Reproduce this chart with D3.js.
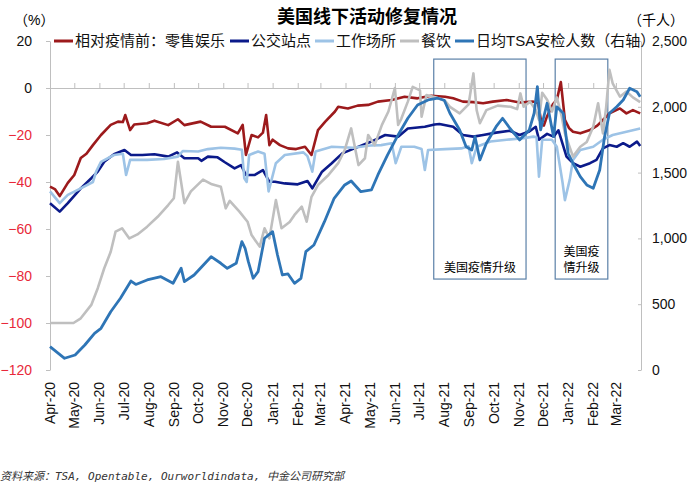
<!DOCTYPE html>
<html>
<head>
<meta charset="utf-8">
<script src="https://cdn.jsdelivr.net/npm/d3@7"></script>
<style>
  body { margin: 0; background: #fff; }
  svg text { font-family: "Liberation Sans", Arial, "Noto Sans CJK SC", sans-serif; }
</style>
</head>
<body>
<div id="chart"></div>
<script>
var width = 700;
var height = 486;

// series: [date, value]
var retail = [["2020-04-01",-42],["2020-04-07",-43],["2020-04-13",-46],["2020-04-23",-40.4],["2020-05-01",-37],["2020-05-09",-29.8],["2020-05-16",-28],["2020-05-24",-24.3],["2020-06-03",-20],["2020-06-15",-15.7],["2020-06-24",-14.3],["2020-06-30",-14.5],["2020-07-03",-11.5],["2020-07-09",-17.9],["2020-07-14",-15.5],["2020-07-30",-15],["2020-08-08",-13.9],["2020-08-25",-15.8],["2020-09-06",-13.3],["2020-09-14",-15.8],["2020-10-04",-14.3],["2020-10-17",-16.5],["2020-11-03",-16.5],["2020-11-19",-19.3],["2020-11-25",-15.7],["2020-11-29",-28.5],["2020-12-06",-20],["2020-12-14",-21],["2020-12-20",-19],["2020-12-24",-11.5],["2020-12-28",-24.3],["2021-01-01",-22],["2021-01-10",-24.3],["2021-01-20",-25.7],["2021-01-30",-26],["2021-02-10",-25],["2021-02-18",-28.5],["2021-02-26",-17.9],["2021-03-07",-14.3],["2021-03-19",-10],["2021-03-23",-8],["2021-04-04",-8.7],["2021-04-16",-7.5],["2021-04-29",-7.2],["2021-05-11",-5.8],["2021-05-28",-5.1],["2021-06-13",-3.7],["2021-06-29",-4.4],["2021-07-16",-3.3],["2021-08-02",-3.7],["2021-08-12",-4.4],["2021-08-24",-5.8],["2021-09-06",-6],["2021-09-18",-6.5],["2021-09-30",-5.8],["2021-10-17",-5.1],["2021-11-02",-6.2],["2021-11-19",-5.8],["2021-11-25",-6.5],["2021-11-29",-15],["2021-12-02",-16],["2021-12-06",-12],["2021-12-13",-7],["2021-12-18",-5.1],["2021-12-23",2.5],["2021-12-28",-13.6],["2022-01-02",-17],["2022-01-07",-18.6],["2022-01-16",-19.3],["2022-01-28",-17.9],["2022-02-06",-16],["2022-02-13",-13.6],["2022-02-21",-10.8],["2022-03-06",-8.7],["2022-03-14",-10.8],["2022-03-22",-9.4],["2022-03-31",-10.8]];

var transit = [["2020-04-01",-49],["2020-04-13",-52.6],["2020-04-23",-49],["2020-05-09",-42.7],["2020-05-22",-38.4],["2020-05-30",-35.6],["2020-06-07",-31.4],["2020-06-19",-28.2],["2020-07-02",-26.4],["2020-07-10",-28.5],["2020-07-24",-28.5],["2020-08-08",-28.2],["2020-08-25",-29.2],["2020-09-05",-27.4],["2020-09-14",-29.9],["2020-10-01",-29.9],["2020-10-05",-31],["2020-10-13",-29.2],["2020-10-25",-29.5],["2020-11-03",-31.6],["2020-11-15",-34.2],["2020-11-23",-32.8],["2020-11-29",-37],["2020-12-10",-37],["2020-12-20",-34.9],["2020-12-28",-39.9],["2021-01-04",-39.9],["2021-01-16",-40.6],["2021-02-01",-41],["2021-02-13",-39.6],["2021-02-19",-42.7],["2021-03-03",-35.6],["2021-03-15",-32],["2021-03-28",-27.8],["2021-04-12",-25.7],["2021-05-03",-22.8],["2021-05-20",-20],["2021-06-05",-20.7],["2021-06-17",-17.2],["2021-07-08",-16.5],["2021-07-20",-15.5],["2021-07-26",-15.3],["2021-08-12",-16.5],["2021-08-24",-20],["2021-09-06",-20.7],["2021-09-18",-20],["2021-10-04",-19],["2021-10-21",-18.2],["2021-11-02",-20],["2021-11-14",-18.5],["2021-11-22",-16.5],["2021-11-26",-22],["2021-12-06",-19.5],["2021-12-14",-20.7],["2021-12-20",-18],["2021-12-30",-29.2],["2022-01-07",-32],["2022-01-16",-33.5],["2022-01-28",-32],["2022-02-05",-30.6],["2022-02-13",-25.7],["2022-02-21",-24.3],["2022-03-02",-25],["2022-03-10",-23.5],["2022-03-18",-25],["2022-03-27",-22.8],["2022-03-31",-24.7]];

var workplace = [["2020-04-01",-44],["2020-04-13",-49],["2020-04-23",-45.5],["2020-05-09",-42.7],["2020-05-24",-40],["2020-05-28",-35.6],["2020-06-03",-31.4],["2020-06-19",-28.5],["2020-06-30",-28],["2020-07-04",-37],["2020-07-09",-30.6],["2020-07-30",-30.6],["2020-08-20",-30.2],["2020-09-06",-29.2],["2020-09-12",-26.8],["2020-10-01",-27],["2020-10-13",-26],["2020-10-29",-25.4],["2020-11-15",-25.8],["2020-11-24",-26.3],["2020-11-27",-38.4],["2020-11-30",-40],["2020-12-03",-28.5],["2020-12-14",-27],["2020-12-22",-28],["2020-12-27",-44],["2021-01-05",-32],["2021-01-16",-28.5],["2021-02-08",-27.4],["2021-02-13",-29],["2021-02-19",-35.6],["2021-02-23",-27],["2021-03-15",-25],["2021-04-10",-25.4],["2021-05-02",-24.5],["2021-05-15",-24.3],["2021-05-28",-23.5],["2021-06-02",-32],["2021-06-09",-25],["2021-06-25",-25],["2021-07-04",-26],["2021-07-08",-34.9],["2021-07-12",-26.4],["2021-08-02",-26],["2021-08-22",-25.7],["2021-08-31",-24.8],["2021-09-04",-32],["2021-09-10",-25],["2021-09-27",-22.8],["2021-10-17",-22],["2021-11-07",-21.4],["2021-11-19",-20.7],["2021-11-23",-21],["2021-11-26",-37.7],["2021-11-30",-22],["2021-12-12",-22],["2021-12-18",-25],["2021-12-25",-40],["2021-12-28",-47.7],["2022-01-03",-39],["2022-01-07",-30.6],["2022-01-16",-26.4],["2022-02-01",-25],["2022-02-13",-22],["2022-02-25",-20],["2022-03-14",-18.6],["2022-03-31",-17.2]];

var dining = [["2020-04-01",-100],["2020-04-30",-100],["2020-05-09",-98],["2020-05-22",-92.3],["2020-05-30",-85.2],["2020-06-07",-76.7],["2020-06-15",-69.7],["2020-06-21",-61.1],["2020-06-29",-59.7],["2020-07-08",-64],["2020-07-18",-62.3],["2020-07-30",-59],["2020-08-12",-54.8],["2020-08-25",-49.8],["2020-09-01",-46.9],["2020-09-06",-31.4],["2020-09-14",-49],["2020-09-22",-44],["2020-10-07",-39],["2020-10-18",-41],["2020-10-29",-42],["2020-11-04",-51.2],["2020-11-09",-48],["2020-11-21",-52.6],["2020-12-01",-56.9],["2020-12-06",-62.6],["2020-12-16",-67.5],["2020-12-22",-59.7],["2020-12-28",-64],["2021-01-05",-47.7],["2021-01-12",-59.7],["2021-01-22",-57],["2021-01-28",-54],["2021-02-06",-50.5],["2021-02-12",-56.9],["2021-02-18",-46.3],["2021-02-26",-41.3],["2021-03-11",-37],["2021-03-23",-32],["2021-03-31",-26.4],["2021-04-08",-17.2],["2021-04-17",-32.8],["2021-04-25",-29.9],["2021-04-29",-20],["2021-05-07",-24.3],["2021-05-16",-15.7],["2021-05-24",-10],["2021-06-01",0],["2021-06-05",-15.7],["2021-06-09",-13],["2021-06-17",-5.8],["2021-06-23",0.5],["2021-07-02",-1],["2021-07-04",-12.2],["2021-07-10",-3],["2021-07-22",-4],["2021-08-02",-5.5],["2021-08-08",-8],["2021-08-20",-10.8],["2021-08-31",-7],["2021-09-06",6.2],["2021-09-10",-9.4],["2021-09-14",-15],["2021-09-22",-9.4],["2021-10-06",-7.5],["2021-10-22",-8],["2021-10-30",-9],["2021-11-03",-2.3],["2021-11-07",-8],["2021-11-15",-5.8],["2021-11-22",-9.4],["2021-11-26",-13.6],["2021-11-30",-2],["2021-12-06",-5],["2021-12-12",-10],["2021-12-18",-4],["2021-12-24",-12],["2021-12-28",-19.3],["2022-01-07",-29.2],["2022-01-16",-25],["2022-01-24",-23],["2022-02-01",-16.5],["2022-02-07",-6.5],["2022-02-13",-19.3],["2022-02-17",-8],["2022-02-21",7.7],["2022-02-25",2],["2022-03-06",-3.7],["2022-03-14",-1.5],["2022-03-22",-4],["2022-03-31",-6]];

// thousand people, right axis
var tsa = [["2020-04-01",177],["2020-04-19",89],["2020-05-02",114],["2020-05-14",190],["2020-05-26",279],["2020-06-03",317],["2020-06-15",443],["2020-06-27",545],["2020-07-10",676],["2020-07-16",650],["2020-07-30",684],["2020-08-16",709],["2020-08-31",659],["2020-09-10",773],["2020-09-14",671],["2020-09-26",722],["2020-10-17",861],["2020-10-29",811],["2020-11-06",773],["2020-11-17",811],["2020-11-24",975],["2020-11-28",925],["2020-12-02",823],["2020-12-08",697],["2020-12-14",747],["2020-12-22",1001],["2021-01-01",1051],["2021-01-07",874],["2021-01-13",722],["2021-01-20",730],["2021-01-28",659],["2021-02-05",697],["2021-02-11",899],["2021-02-21",950],["2021-03-06",1127],["2021-03-18",1305],["2021-03-31",1406],["2021-04-08",1436],["2021-04-20",1355],["2021-05-03",1368],["2021-05-11",1482],["2021-05-23",1634],["2021-06-05",1786],["2021-06-17",1913],["2021-06-29",2014],["2021-07-12",2052],["2021-07-24",2065],["2021-08-01",2050],["2021-08-08",1951],["2021-08-20",1824],["2021-08-28",1697],["2021-09-04",1672],["2021-09-08",1773],["2021-09-14",1596],["2021-09-22",1723],["2021-10-04",1849],["2021-10-12",1913],["2021-10-21",1837],["2021-11-02",1748],["2021-11-14",1824],["2021-11-20",1951],["2021-11-24",2153],["2021-11-28",1824],["2021-12-06",2027],["2021-12-14",1773],["2021-12-18",2000],["2021-12-26",1951],["2022-01-01",1647],["2022-01-07",1571],["2022-01-16",1469],["2022-01-24",1406],["2022-02-01",1381],["2022-02-09",1520],["2022-02-15",1773],["2022-02-21",1951],["2022-03-02",2001],["2022-03-10",2052],["2022-03-18",2141],["2022-03-27",2115],["2022-03-31",2077]];

var leftTicks = [20, 0, -20, -40, -60, -80, -100, -120];
var rightTicks = [0, 500, 1000, 1500, 2000, 2500];
var legendNames = ["相对疫情前：零售娱乐", "公交站点", "工作场所", "餐饮", "日均TSA安检人数（右轴）"];
var periods = [["2021-07-19", "2021-11-10", ["美国疫情升级"]], ["2021-12-16", "2022-02-19", ["美国疫", "情升级"]]];

var parse = d3.timeParse("%Y-%m-%d");
var colors = ["#9c1a1c", "#0b1a8a", "#9dc3e6", "#bfbfbf", "#2e75b6"];

var svg = d3.select("#chart").append("svg")
    .attr("width", width)
    .attr("height", height);

var x = d3.scaleTime().domain([parse("2020-04-01"), parse("2022-04-01")]).range([50, 641]);
var yL = d3.scaleLinear().domain([-120, 20]).range([370, 41]);
var yR = d3.scaleLinear().domain([0, 2500]).range([370, 41]);

// title + units
svg.append("text").attr("x", 367).attr("y", 23).attr("text-anchor", "middle")
    .style("font-size", "18px").style("font-weight", "bold").text("美国线下活动修复情况");
svg.append("text").attr("x", 14).attr("y", 25).style("font-size", "14px").text("（%）");
svg.append("text").attr("x", 628).attr("y", 25).style("font-size", "14px").text("（千人）");

// left axis
var gl = svg.append("g").attr("transform", "translate(50,0)")
    .call(d3.axisLeft(yL).tickValues(leftTicks).tickSize(4).tickPadding(14).tickSizeOuter(0));
gl.select(".domain").attr("stroke", "#bfbfbf");
gl.selectAll(".tick line").attr("stroke", "#bfbfbf");
gl.selectAll(".tick text").style("font-size", "14px")
    .attr("fill", function(d) { return d < 0 ? "#e8283a" : "#111"; });

// right axis
var gr = svg.append("g").attr("transform", "translate(641,0)")
    .call(d3.axisRight(yR).tickValues(rightTicks).tickSize(0).tickPadding(11).tickSizeOuter(0)
        .tickFormat(d3.format(",")));
gr.select(".domain").attr("stroke", "#bfbfbf");
gr.selectAll(".tick text").style("font-size", "14px").attr("fill", "#111");
gr.selectAll(".tick").append("line").attr("x1", -3).attr("x2", 0).attr("stroke", "#bfbfbf");

// zero line with month ticks
var months = d3.timeMonth.range(parse("2020-04-01"), parse("2022-04-02"));
var gz = svg.append("g").attr("transform", "translate(0," + yL(0) + ")")
    .call(d3.axisTop(x).tickValues(months).tickSize(5).tickFormat("").tickSizeOuter(0));
gz.select(".domain").attr("stroke", "#bfbfbf");
gz.selectAll(".tick line").attr("stroke", "#bfbfbf");

// month labels at bottom
var fmt = d3.timeFormat("%b-%y");
svg.append("g").selectAll("text")
    .data(months.slice(0, 24))
    .enter()
    .append("text")
    .attr("transform", function(d) { return "translate(" + x(d) + ",382) rotate(-90)"; })
    .attr("dy", "0.35em")
    .attr("text-anchor", "end")
    .style("font-size", "14px")
    .attr("fill", "#111")
    .text(function(d) { return fmt(d); });

// period boxes
periods.forEach(function(p) {
    var x0 = x(parse(p[0])), x1 = x(parse(p[1]));
    svg.append("rect")
        .attr("x", x0).attr("y", yL(12.3))
        .attr("width", x1 - x0).attr("height", yL(-81.3) - yL(12.3))
        .attr("fill", "none").attr("stroke", "#5b80a8").attr("stroke-width", 1.2);
    var n = p[2].length;
    p[2].forEach(function(t, i) {
        svg.append("text")
            .attr("x", (x0 + x1) / 2)
            .attr("y", yL(-81.3) - 7 - (n - 1 - i) * 16)
            .attr("text-anchor", "middle")
            .style("font-size", "12px")
            .text(t);
    });
});

// lines
var lineL = d3.line()
    .x(function(d) { return x(parse(d[0])); })
    .y(function(d) { return yL(d[1]); });
var lineR = d3.line()
    .x(function(d) { return x(parse(d[0])); })
    .y(function(d) { return yR(d[1]); });

var series = [retail, transit, workplace, dining];
series.forEach(function(s, i) {
    svg.append("path").datum(s)
        .attr("d", lineL)
        .attr("fill", "none")
        .attr("stroke", colors[i])
        .attr("stroke-width", 2.6)
        .attr("stroke-linejoin", "round");
});
svg.append("path").datum(tsa)
    .attr("d", lineR)
    .attr("fill", "none")
    .attr("stroke", colors[4])
    .attr("stroke-width", 2.8)
    .attr("stroke-linejoin", "round");

// legend
var legendX = [54, 230, 315, 400, 455];
var lg = svg.append("g");
legendNames.forEach(function(name, i) {
    lg.append("line")
        .attr("x1", legendX[i]).attr("x2", legendX[i] + 19)
        .attr("y1", 41).attr("y2", 41)
        .attr("stroke", colors[i]).attr("stroke-width", 3);
    lg.append("text")
        .attr("x", legendX[i] + 21).attr("y", 46)
        .style("font-size", "15px")
        .attr("fill", "#111")
        .text(name);
});

// source
svg.append("text")
    .attr("x", 0).attr("y", 480)
    .style("font-family", "'DejaVu Sans Mono', 'Noto Sans CJK SC', monospace")
    .style("font-style", "italic")
    .style("font-size", "11px")
    .attr("fill", "#333")
    .text("资料来源：TSA, Opentable, Ourworldindata, 中金公司研究部");
</script>
</body>
</html>
